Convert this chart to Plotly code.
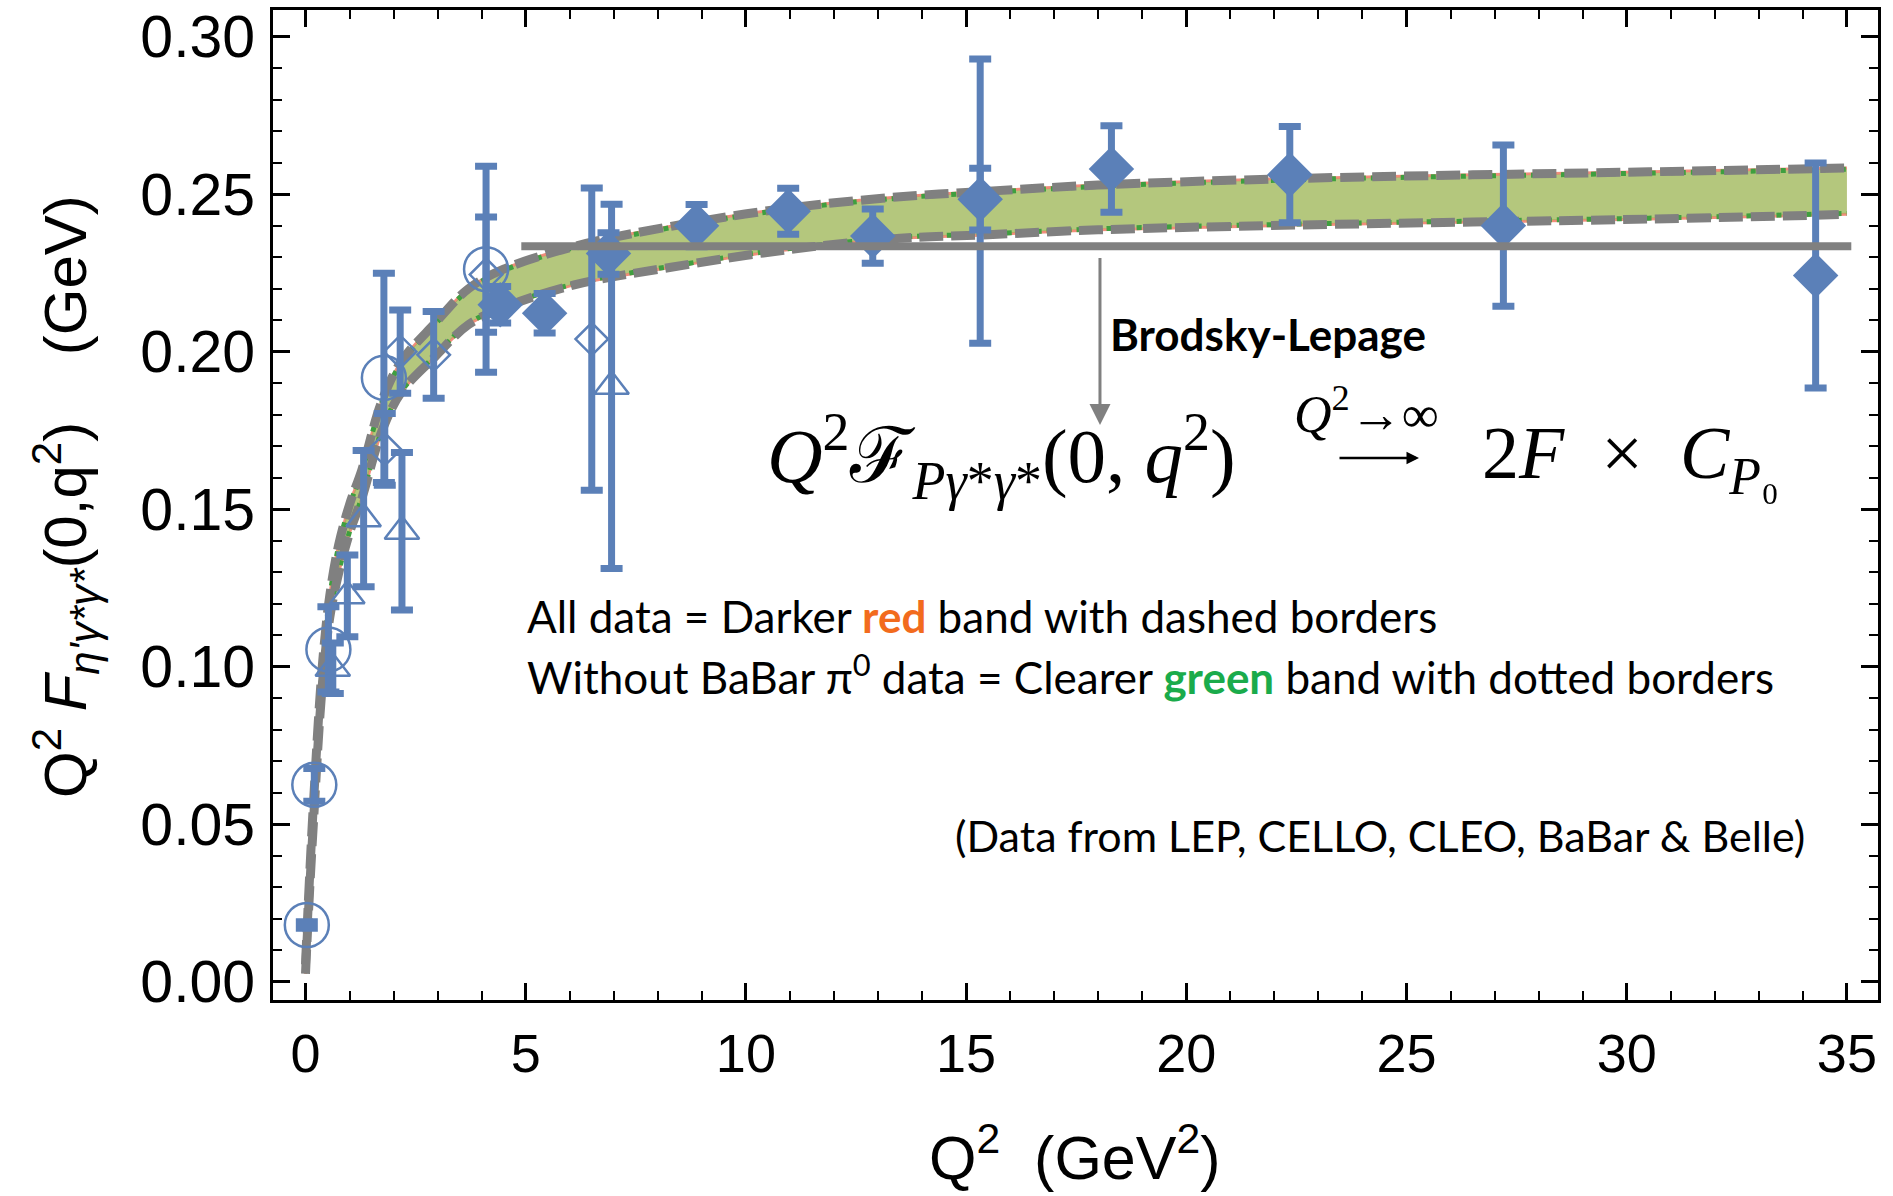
import plotly.graph_objects as go

# ---- data ---------------------------------------------------------------
# theory band: all data (red band, dashed borders)
band_q2 = [0.0, 0.06, 0.18, 0.38, 0.55, 0.75, 1.0, 1.28, 1.73, 2.18, 2.94,
           3.7, 4.5, 6.1, 8.3, 10.9, 13.5, 15.3, 18.0, 22.5, 30.5, 35.0]
red_upper = [0.0055, 0.024, 0.0565, 0.1000, 0.1225, 0.1385, 0.1515, 0.1625,
             0.1842, 0.1970, 0.2090, 0.2200, 0.2262, 0.2334, 0.2398, 0.2455,
             0.2492, 0.2508, 0.2529, 0.2550, 0.2571, 0.2583]
red_lower = [0.0025, 0.020, 0.0505, 0.0940, 0.1155, 0.1295, 0.1425, 0.1535,
             0.1746, 0.1872, 0.1984, 0.2086, 0.2140, 0.2212, 0.2268, 0.2323,
             0.2360, 0.2370, 0.2387, 0.2402, 0.2421, 0.2436]
# theory band: without BaBar pi0 data (green band, dotted borders)
green_upper = [0.0053, 0.0238, 0.0562, 0.0996, 0.1221, 0.1381, 0.1511, 0.1621,
               0.1838, 0.1966, 0.2086, 0.2196, 0.2258, 0.2330, 0.2394, 0.2451,
               0.2488, 0.2504, 0.2525, 0.2546, 0.2567, 0.2579]
green_lower = [0.0027, 0.0202, 0.0508, 0.0943, 0.1158, 0.1298, 0.1428, 0.1538,
               0.1749, 0.1875, 0.1987, 0.2089, 0.2143, 0.2215, 0.2271, 0.2326,
               0.2363, 0.2373, 0.2390, 0.2405, 0.2424, 0.2439]

# Brodsky-Lepage asymptotic limit
bl_q2 = [4.9, 35.1]
bl_val = [0.2335, 0.2335]

# experimental points
circ_q2 = [0.03, 0.20, 0.52, 1.78, 4.10]
circ_y = [0.0180, 0.0625, 0.1055, 0.1917, 0.2262]
circ_err = [0.0010, 0.0052, 0.0135, 0.0332, 0.0327]

tri_q2 = [0.62, 0.95, 1.32, 2.19, 6.95]
tri_y = [0.0995, 0.1225, 0.1470, 0.1430, 0.1890]
tri_err = [0.0080, 0.0130, 0.0216, 0.0250, 0.0578]

dopen_q2 = [1.80, 2.15, 2.91, 4.10, 6.50]
dopen_y = [0.1690, 0.2000, 0.1990, 0.2245, 0.2040]
dopen_err = [0.0114, 0.0132, 0.0138, 0.0183, 0.0480]

dfill_q2 = [4.42, 5.43, 6.88, 8.88, 10.96, 12.88, 15.32, 18.30, 22.35, 27.20, 34.29]
dfill_y = [0.2149, 0.2122, 0.2312, 0.2400, 0.2446, 0.2367, 0.2484, 0.2580,
           0.2562, 0.2400, 0.2242]
dfill_err = [0.0058, 0.0063, 0.0066, 0.0067, 0.0073, 0.0086, 0.0098, 0.0137,
             0.0153, 0.0256, 0.0357]

# total (stat + syst) uncertainty shown as a wider bar
tot_q2 = [15.32]
tot_y = [0.2478]
tot_err = [0.0451]

x_ticks = [0, 5, 10, 15, 20, 25, 30, 35]
y_ticks = [0.00, 0.05, 0.10, 0.15, 0.20, 0.25, 0.30]

# ---- style ----------------------------------------------------------------
BLUE = "#5b80b8"
GRAY = "#808080"
W, H = 1893, 1196
L, R, T, B = 273, 15, 10, 196
X0, XS = 305.5, 44.04      # pixel of Q2 = 0 and pixels per GeV^2
Y0, YS = 981.7, 3150.0     # pixel of 0 GeV and pixels per GeV


def qx(px):
    return (px - X0) / XS


def vy(py):
    return (Y0 - py) / YS


fig = go.Figure()

# red band (all data)
fig.add_trace(go.Scatter(x=band_q2, y=red_lower, mode="lines",
                         line=dict(color="rgba(240,130,110,0.9)", width=3, shape="spline"),
                         hoverinfo="skip"))
fig.add_trace(go.Scatter(x=band_q2, y=red_upper, mode="lines", fill="tonexty",
                         fillcolor="rgba(240,140,120,0.45)",
                         line=dict(color="rgba(240,130,110,0.9)", width=3, shape="spline"),
                         hoverinfo="skip"))
# green band (without BaBar pi0)
fig.add_trace(go.Scatter(x=band_q2, y=green_lower, mode="lines",
                         line=dict(color="#3f9f3f", width=5, shape="spline", dash="dot"),
                         hoverinfo="skip"))
fig.add_trace(go.Scatter(x=band_q2, y=green_upper, mode="lines", fill="tonexty",
                         fillcolor="rgba(135,197,78,0.6)",
                         line=dict(color="#3f9f3f", width=5, shape="spline", dash="dot"),
                         hoverinfo="skip"))
# dashed borders of the full-data band
for arr in (red_lower, red_upper):
    fig.add_trace(go.Scatter(x=band_q2, y=arr, mode="lines",
                             line=dict(color=GRAY, width=9, shape="spline", dash="24px,8px"),
                             hoverinfo="skip"))

bar = dict(type="data", color=BLUE, thickness=7, width=11, visible=True)

fig.add_trace(go.Scatter(x=tot_q2, y=tot_y, mode="markers",
                         marker=dict(size=1, color="rgba(0,0,0,0)"),
                         error_y=dict(array=tot_err, **bar)))
fig.add_trace(go.Scatter(x=circ_q2, y=circ_y, mode="markers",
                         marker=dict(symbol="circle-open", size=44, color=BLUE,
                                     line=dict(width=2.5, color=BLUE)),
                         error_y=dict(array=circ_err, **bar)))
fig.add_trace(go.Scatter(x=tri_q2, y=tri_y, mode="markers",
                         marker=dict(symbol="triangle-up-open", size=30, color=BLUE,
                                     line=dict(width=2.5, color=BLUE)),
                         error_y=dict(array=tri_err, **bar)))
fig.add_trace(go.Scatter(x=dopen_q2, y=dopen_y, mode="markers",
                         marker=dict(symbol="diamond-open", size=25, color=BLUE,
                                     line=dict(width=2.5, color=BLUE)),
                         error_y=dict(array=dopen_err, **bar)))
fig.add_trace(go.Scatter(x=dfill_q2, y=dfill_y, mode="markers",
                         marker=dict(symbol="diamond", size=35, color=BLUE,
                                     line=dict(width=0)),
                         error_y=dict(array=dfill_err, **bar)))

# Brodsky-Lepage line
fig.add_trace(go.Scatter(x=bl_q2, y=bl_val, mode="lines",
                         line=dict(color=GRAY, width=8), hoverinfo="skip"))

axis_common = dict(showline=True, linecolor="black", linewidth=3, mirror="allticks",
                   ticks="inside", ticklen=17, tickwidth=2.5, tickcolor="black",
                   showgrid=False, zeroline=False, automargin=False)

SANS = "Liberation Sans, Arial, sans-serif"
CAL = "Lato, Open Sans, sans-serif"
SERIF = "Liberation Serif, DejaVu Serif, serif"

fig.update_layout(
    width=W, height=H, autosize=False,
    margin=dict(l=L, r=R, t=T, b=B, autoexpand=False),
    paper_bgcolor="white", plot_bgcolor="white",
    showlegend=False,
    xaxis=dict(range=[qx(L), qx(W - R)], tickvals=x_ticks,
               ticktext=[str(v) for v in x_ticks],
               minor=dict(ticks="inside", dtick=1, ticklen=9, tickwidth=2, tickcolor="black"),
               ticklabelstandoff=4,
               tickfont=dict(family=SANS, size=54, color="black"), **axis_common),
    yaxis=dict(range=[vy(H - B), vy(T)], tickvals=y_ticks,
               ticktext=["%.2f" % v for v in y_ticks],
               minor=dict(ticks="inside", dtick=0.01, ticklen=9, tickwidth=2, tickcolor="black"),
               ticklabelstandoff=3,
               tickfont=dict(family=SANS, size=59, color="black"), **axis_common),
)

plot_w = W - L - R
plot_h = H - T - B

ann = []
# axis titles
ann.append(dict(xref="paper", yref="paper", x=(1075 - L) / plot_w, y=(H - B - 1194) / plot_h,
                text="Q<sup>2</sup>\u00a0\u00a0(GeV<sup>2</sup>)", showarrow=False,
                font=dict(family=SANS, size=61, color="black"),
                xanchor="center", yanchor="bottom"))
ann.append(dict(xref="paper", yref="paper", x=(66 - L) / plot_w, y=(H - B - 497) / plot_h,
                text="Q<sup>2</sup> <i>F</i><sub><i>η'γ*γ*</i></sub>(0,q<sup>2</sup>)"
                     "\u00a0\u00a0\u00a0\u00a0(GeV)",
                textangle=-90, showarrow=False,
                font=dict(family=SANS, size=60, color="black"),
                xanchor="center", yanchor="middle"))
# Brodsky-Lepage arrow and label
ann.append(dict(x=18.04, y=0.1767, ax=18.04, ay=0.2302, xref="x", yref="y",
                axref="x", ayref="y", showarrow=True, arrowhead=2, arrowsize=1.4,
                arrowwidth=3, arrowcolor=GRAY, text=""))
ann.append(dict(x=qx(1108), y=vy(334), xref="x", yref="y",
                text="<b>Brodsky-Lepage</b>", showarrow=False, xanchor="left",
                yanchor="middle", font=dict(family=CAL, size=44, color="black")))
# asymptotic formula
ann.append(dict(x=qx(1001), y=vy(456), xref="x", yref="y",
                text="<i>Q</i><sup>2</sup>ℱ<sub><i>Pγ</i>*<i>γ</i>*</sub>(0,\u00a0<i>q</i><sup>2</sup>)",
                showarrow=False, xanchor="center", yanchor="middle",
                font=dict(family=SERIF, size=77, color="black")))
ann.append(dict(x=qx(1366), y=vy(410), xref="x", yref="y",
                text="<i>Q</i><sup>2</sup>→∞", showarrow=False, xanchor="center",
                yanchor="middle", font=dict(family=SERIF, size=52, color="black")))
# long arrow under the limit
ann.append(dict(x=qx(1419), y=vy(458), ax=qx(1338), ay=vy(458), xref="x", yref="y",
                axref="x", ayref="y", showarrow=True, arrowhead=2, arrowsize=1.0,
                arrowwidth=2.5, arrowcolor="black", text=""))
ann.append(dict(x=qx(1630), y=vy(458), xref="x", yref="y",
                text="2<i>F</i>\u2002×\u2002<i>C</i><sub><i>P</i>₀</sub>",
                showarrow=False, xanchor="center", yanchor="middle",
                font=dict(family=SERIF, size=74, color="black")))
# explanatory text
ann.append(dict(x=qx(525), y=vy(616), xref="x", yref="y",
                text="All data = Darker <b><span style='color:#f26b1d'>red</span></b>"
                     " band with dashed borders",
                showarrow=False, xanchor="left", yanchor="middle",
                font=dict(family=CAL, size=44, color="black")))
ann.append(dict(x=qx(525), y=vy(674), xref="x", yref="y",
                text="Without BaBar π<sup>0</sup> data = Clearer "
                     "<b><span style='color:#1aab4b'>green</span></b> band with dotted borders",
                showarrow=False, xanchor="left", yanchor="middle",
                font=dict(family=CAL, size=44, color="black")))
ann.append(dict(x=qx(1807), y=vy(835), xref="x", yref="y",
                text="(Data from LEP, CELLO, CLEO, BaBar &amp; Belle)",
                showarrow=False, xanchor="right", yanchor="middle",
                font=dict(family=CAL, size=43, color="black")))

fig.update_layout(annotations=ann)
fig.write_html("out.html")
